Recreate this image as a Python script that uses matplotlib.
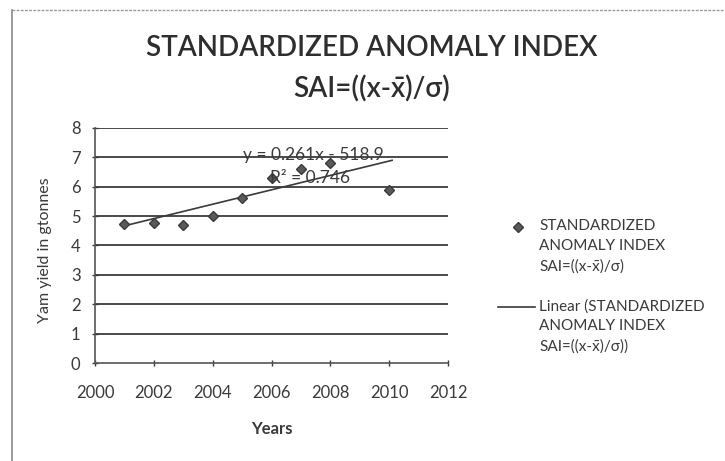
import matplotlib
matplotlib.use('Agg')
import matplotlib.pyplot as plt
from matplotlib.lines import Line2D

plt.rcParams['font.family'] = ['Lato', 'DejaVu Sans']

# values
years = [2001, 2002, 2003, 2004, 2005, 2006, 2007, 2008, 2010]
sai = [4.73, 4.77, 4.69, 5.02, 5.6, 6.3, 6.6, 6.8, 5.9]
trend_years = [2001, 2010.1]
trend_values = [4.67, 6.9]
x_ticks = [2000, 2002, 2004, 2006, 2008, 2010, 2012]
y_ticks = [0, 1, 2, 3, 4, 5, 6, 7, 8]

xbar = 'x\u0304'
formula = 'SAI=((x-' + xbar + ')/σ)'
series_label = 'STANDARDIZED\nANOMALY INDEX\n' + formula
trend_label = 'Linear (STANDARDIZED\nANOMALY INDEX\n' + formula + ')'

ink = '#3a3a3a'
W, H = 725, 461


def fx(px):
    return px / W


def fy(py):
    return 1 - py / H


fig = plt.figure(figsize=(7.25, 4.61), dpi=100)
fig.patch.set_facecolor('white')

# border of the scanned chart (left and top only visible)
fig.add_artist(Line2D([fx(12), fx(12)], [0, fy(10)], transform=fig.transFigure,
                      color='#8a8a8a', linewidth=1.2))
fig.add_artist(Line2D([fx(12), 1], [fy(10), fy(10)], transform=fig.transFigure,
                      color='#9a9a9a', linewidth=1.0, linestyle=(0, (2, 1))))

ax = fig.add_axes([fx(95), fy(363), fx(353), 235 / H])

for v in y_ticks[1:]:
    ax.axhline(v, color='#4a4a4a', linewidth=1.4, zorder=1)

ax.plot(trend_years, trend_values, color=ink, linewidth=1.2, zorder=2)
ax.plot(years, sai, linestyle='none', marker='D', markersize=5.5,
        markerfacecolor='#5a5a5a', markeredgecolor=ink, zorder=3)

ax.set_xlim(2000, 2012)
ax.set_ylim(0, 8)
ax.set_xticks(x_ticks)
ax.set_yticks(y_ticks)
ax.tick_params(axis='both', labelsize=12, colors=ink, direction='inout', length=5, width=1)
ax.tick_params(axis='x', pad=13)
ax.tick_params(axis='y', pad=8)

for side in ['top', 'right']:
    ax.spines[side].set_visible(False)
for side in ['left', 'bottom']:
    ax.spines[side].set_color('#555555')
    ax.spines[side].set_linewidth(1.2)

ax.set_xlabel('Years', fontsize=12, fontweight='bold', color=ink)
ax.xaxis.set_label_coords(0.5, -66 / 235)
ax.xaxis.label.set_va('center')
ax.set_ylabel('Yam yield in gtonnes', fontsize=11.5, color=ink)
ax.yaxis.set_label_coords(-50 / 353, 0.481)
ax.yaxis.label.set_va('center')

ax.text(2007.41, 7.08, 'y = 0.261x - 518.9', fontsize=12.5, color=ink,
        ha='center', va='center', zorder=4)
ax.text(2007.3, 6.3, 'R² = 0.746', fontsize=12.5, color=ink,
        ha='center', va='center', zorder=4)

fig.text(fx(372), fy(48), 'STANDARDIZED ANOMALY INDEX', fontsize=20,
         fontweight='semibold', color='#2e2e2e', ha='center', va='center')
fig.text(fx(372), fy(89), formula, fontsize=20,
         fontweight='semibold', color='#2e2e2e', ha='center', va='center')

# legend, with the handles level with the first line of each label as in Excel
fig.add_artist(Line2D([fx(518)], [fy(227)], transform=fig.transFigure,
                      linestyle='none', marker='D', markersize=5.5,
                      markerfacecolor='#5a5a5a', markeredgecolor=ink))
fig.text(fx(539), fy(219), series_label, fontsize=11, color=ink,
         ha='left', va='top', linespacing=1.55)
fig.add_artist(Line2D([fx(498), fx(535)], [fy(307), fy(307)], transform=fig.transFigure,
                      color=ink, linewidth=1.2))
fig.text(fx(539), fy(299), trend_label, fontsize=11, color=ink,
         ha='left', va='top', linespacing=1.55)

fig.savefig('out.png', dpi=100)
